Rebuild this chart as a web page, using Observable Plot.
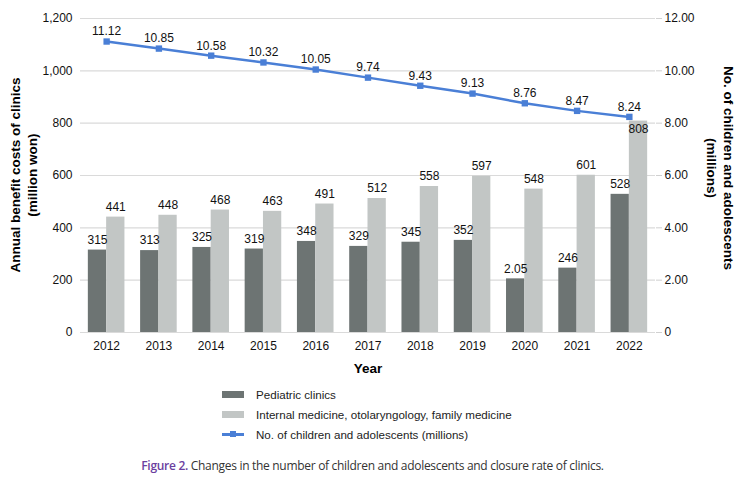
<!DOCTYPE html>
<html>
<head>
<meta charset="utf-8">
<script src="https://cdn.jsdelivr.net/npm/d3@7"></script>
<script src="https://cdn.jsdelivr.net/npm/@observablehq/plot@0.6"></script>
<style>
  html, body { margin: 0; padding: 0; background: #fff; }
  #wrap { position: relative; width: 745px; height: 483px; font-family: "Liberation Sans", Arial, sans-serif; }
  #chart { position: absolute; left: 0; top: 0; }
  .ytitle { position: absolute; font-weight: bold; font-size: 13.5px; color: #000; white-space: nowrap; text-align: center; line-height: 17px; }
  #legend { position: absolute; left: 222px; top: 384px; font-size: 11.6px; color: #222; }
  .row { display: flex; align-items: center; height: 20px; }
  .sw { width: 22px; margin-right: 12px; position: relative; }
  #caption { position: absolute; left: 0; width: 745px; top: 457px; text-align: center; font-family: "Open Sans", "Noto Sans", sans-serif; font-size: 12px; color: #333; letter-spacing: -0.3px; }
  #caption b { color: #6b3fa0; font-weight: 600; }
</style>
</head>
<body>
<div id="wrap">
  <div id="chart"></div>
  <div class="ytitle" id="ltitle">Annual benefit costs of clinics<br>(million won)</div>
  <div class="ytitle" id="rtitle">No. of children and adolescents<br>(millions)</div>
  <div id="legend"></div>
  <div id="caption"><b>Figure 2.</b> Changes in the number of children and adolescents and closure rate of clinics.</div>
</div>
<script>
const years = [2012, 2013, 2014, 2015, 2016, 2017, 2018, 2019, 2020, 2021, 2022];
const pediatric = [315, 313, 325, 319, 348, 329, 345, 352, 205, 246, 528];
const pediatricLabels = ["315", "313", "325", "319", "348", "329", "345", "352", "2.05", "246", "528"];
const internal = [441, 448, 468, 463, 491, 512, 558, 597, 548, 601, 808];
const children = [11.12, 10.85, 10.58, 10.32, 10.05, 9.74, 9.43, 9.13, 8.76, 8.47, 8.24];
const leftTicks = [0, 200, 400, 600, 800, 1000, 1200];
const rightTicks = [0, 2, 4, 6, 8, 10, 12];
const seriesNames = ["Pediatric clinics", "Internal medicine, otolaryngology, family medicine", "No. of children and adolescents (millions)"];

const colDark = "#6d7473";
const colLight = "#c2c6c5";
const colBlue = "#4a7fd6";
const ratio = 100; // right axis value * 100 = left axis value

const pedRows = years.map((y, i) => ({year: y, value: pediatric[i], label: pediatricLabels[i]}));
const intRows = years.map((y, i) => ({year: y, value: internal[i]}));
const childRows = years.map((y, i) => ({year: y, count: children[i]}));
const hw = 0.35;

const plot = Plot.plot({
  width: 745,
  height: 378,
  marginLeft: 80,
  marginRight: 90,
  marginTop: 18,
  marginBottom: 46,
  style: {fontFamily: "Liberation Sans, Arial, sans-serif", fontSize: "12px", color: "#111", background: "white"},
  x: {domain: [2011.5, 2022.5], axis: null},
  y: {domain: [0, 1200], axis: null},
  marks: [
    Plot.ruleY(leftTicks, {stroke: "#dadada", strokeWidth: 1.2}),
    Plot.rectY(pedRows, {x1: d => d.year - hw, x2: d => d.year, y: "value", fill: colDark, inset: 0}),
    Plot.rectY(intRows, {x1: d => d.year, x2: d => d.year + hw, y: "value", fill: colLight, inset: 0}),
    Plot.text(pedRows, {x: d => d.year - hw / 2, y: "value", text: "label", dy: -10, fontSize: 12, fill: "#111"}),
    Plot.text(intRows.filter(d => d.value < 800), {x: d => d.year + hw / 2, y: "value", text: d => String(d.value), dy: -10, fontSize: 12, fill: "#111"}),
    Plot.text(intRows.filter(d => d.value >= 800), {x: d => d.year + hw / 2, y: "value", text: d => String(d.value), dy: 8, fontSize: 12, fill: "#111"}),
    Plot.line(childRows, {x: "year", y: d => d.count * ratio, stroke: colBlue, strokeWidth: 2.5}),
    Plot.dot(childRows, {x: "year", y: d => d.count * ratio, symbol: "square", r: 3.6, fill: colBlue, stroke: "none"}),
    Plot.text(childRows, {x: "year", y: d => d.count * ratio, text: d => d.count.toFixed(2), dy: -10, fontSize: 12, fill: "#111"}),
    Plot.axisX(years, {anchor: "bottom", tickSize: 0, tickPadding: 9, tickFormat: d => String(d), fontSize: 12, label: null}),
    Plot.axisY(leftTicks, {anchor: "left", tickSize: 0, tickPadding: 8, tickFormat: d3.format(","), fontSize: 12, label: null}),
    Plot.axisY(rightTicks.map(v => v * ratio), {anchor: "right", tickSize: 6, tickPadding: 3, stroke: "#d0d0d0", tickFormat: d => d === 0 ? "0" : (d / ratio).toFixed(2), fontSize: 12, label: null}),
    Plot.text(["Year"], {frameAnchor: "bottom", dy: 40, fontSize: 13.5, fontWeight: "bold", fill: "#000"})
  ]
});
document.getElementById("chart").appendChild(plot);

// Axis titles
const lt = document.getElementById("ltitle");
lt.style.left = "24px"; lt.style.top = "175px";
lt.style.transform = "translate(-50%, -50%) rotate(-90deg)";
const rt = document.getElementById("rtitle");
rt.style.left = "720px"; rt.style.top = "168px";
rt.style.transform = "translate(-50%, -50%) rotate(90deg)";

// Legend
const legend = document.getElementById("legend");
const sw = [
  `<div class="sw" style="height:7px;background:${colDark}"></div>`,
  `<div class="sw" style="height:7px;background:${colLight}"></div>`,
  `<div class="sw" style="height:10px"><div style="position:absolute;left:0;right:0;top:4px;height:2.5px;background:${colBlue}"></div><div style="position:absolute;left:8px;top:2px;width:6px;height:6px;background:${colBlue}"></div></div>`
];
seriesNames.forEach((n, i) => {
  const r = document.createElement("div");
  r.className = "row";
  r.innerHTML = sw[i] + `<span>${n}</span>`;
  legend.appendChild(r);
});
</script>
</body>
</html>
